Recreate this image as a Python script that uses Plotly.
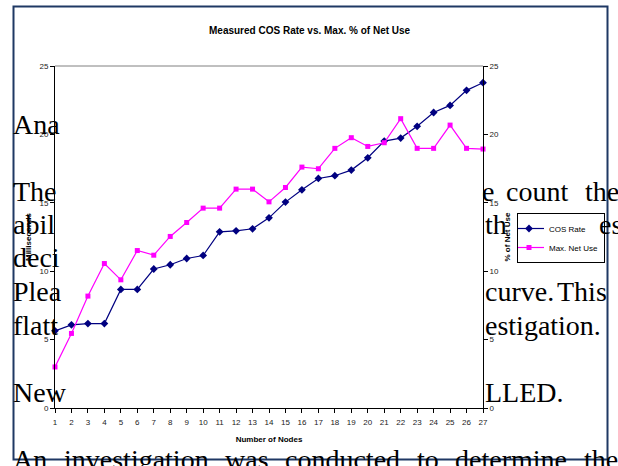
import plotly.graph_objects as go

# ---- data ----
nodes = list(range(1, 28))
cos_rate = [5.64, 6.08, 6.17, 6.17, 8.67, 8.67, 10.16, 10.47, 10.93, 11.15,
            12.88, 12.95, 13.10, 13.90, 15.05, 15.95, 16.78, 16.98, 17.39, 18.29,
            19.51, 19.73, 20.59, 21.60, 22.12, 23.22, 23.78]
max_net_use = [3.00, 5.45, 8.18, 10.56, 9.37, 11.51, 11.17, 12.54, 13.56, 14.61,
               14.61, 16.00, 16.00, 15.07, 16.12, 17.61, 17.49, 18.98, 19.76, 19.12,
               19.39, 21.15, 18.98, 18.98, 20.68, 18.98, 18.93]
y_ticks = [0, 5, 10, 15, 20, 25]

title_text = "Measured COS Rate vs. Max. % of Net Use"
x_title = "Number of Nodes"
y_title = "Milliseconds"
y2_title = "% of Net Use"
series_names = ["COS Rate", "Max. Net Use"]

# background document text fragments visible around the chart: (text, left px, baseline px)
bg_text = [
    ("Ana", 12, 134), ("The", 12, 201), ("abil", 12, 234), ("deci", 12, 267),
    ("Plea", 12, 301), ("flatt", 12, 335), ("New", 12, 402),
    ("e", 481, 201), ("count", 505, 201), ("the", 584, 201),
    ("th", 484, 234), ("es", 598, 234),
    ("curve.", 484, 301), ("This", 556, 301),
    ("estigation.", 484, 335), ("LLED.", 484, 402),
    ("An", 12, 469), ("investigation", 63, 469), ("was", 224, 469),
    ("conducted", 284, 469), ("to", 416, 469), ("determine", 454, 469), ("the", 583, 469),
]

W, H = 618, 466
PL, PR, PT, PB = 55, 483, 66, 408   # plot area in page pixels


def fx(p):
    return (p - PL) / (PR - PL)


def fy(p):
    return (PB - p) / (PB - PT)


FONT = "Liberation Sans, Arial, sans-serif"
SERIF = "Liberation Serif, Times New Roman, serif"
BG_SIZE = 28

fig = go.Figure()
fig.add_trace(go.Scatter(
    x=nodes, y=cos_rate, name=series_names[0], mode="lines+markers",
    line=dict(color="#000080", width=1.2),
    marker=dict(symbol="diamond", size=6, color="#000080"),
    cliponaxis=False, yaxis="y"))
fig.add_trace(go.Scatter(
    x=nodes, y=max_net_use, name=series_names[1], mode="lines+markers",
    line=dict(color="#FF00FF", width=1.2),
    marker=dict(symbol="square", size=5, color="#FF00FF"),
    cliponaxis=False, yaxis="y2"))

annotations = []
for txt, xl, base in bg_text:
    annotations.append(dict(
        text=txt, xref="paper", yref="paper", x=fx(xl), y=fy(base - 9.5),
        xanchor="left", yanchor="middle", showarrow=False,
        font=dict(family=SERIF, size=BG_SIZE, color="#000000"),
        borderpad=0))

annotations.append(dict(
    text="<b>" + title_text + "</b>", xref="paper", yref="paper",
    x=fx(310), y=fy(31), xanchor="center", yanchor="middle", showarrow=False,
    font=dict(family=FONT, size=10, color="#000000")))

axis_common = dict(showgrid=False, zeroline=False, showline=True,
                   linecolor="#000000", linewidth=1, ticks="outside", ticklen=4,
                   tickcolor="#000000",
                   tickfont=dict(family=FONT, size=8, color="#222222"))

fig.update_layout(
    width=W, height=H,
    margin=dict(l=PL, r=W - PR, t=PT, b=H - PB, autoexpand=False),
    paper_bgcolor="white", plot_bgcolor="white",
    showlegend=True,
    legend=dict(x=fx(517), y=fy(238), xanchor="left", yanchor="middle",
                bgcolor="white", bordercolor="#000000", borderwidth=1,
                font=dict(family=FONT, size=8, color="#000000"),
                itemwidth=30, tracegroupgap=0, indentation=-9),
    xaxis=dict(range=[1, 27], tickmode="array", tickvals=nodes,
               ticklabelstandoff=2,
               title=dict(text="<b>" + x_title + "</b>", standoff=10,
                          font=dict(family=FONT, size=8, color="#000000")),
               **axis_common),
    yaxis=dict(range=[0, 25], tickvals=y_ticks,
               title=dict(text="<b>" + y_title + "</b>", standoff=6,
                          font=dict(family=FONT, size=8, color="#000000")),
               **axis_common),
    yaxis2=dict(range=[0, 25], tickvals=y_ticks, overlaying="y", side="right",
                title=dict(text="<b>" + y2_title + "</b>", standoff=6,
                           font=dict(family=FONT, size=8, color="#000000")),
                **axis_common),
    annotations=annotations,
    shapes=[
        dict(type="line", xref="paper", yref="paper", x0=0, x1=1, y0=1, y1=1,
             line=dict(color="#808080", width=1), layer="below"),
        dict(type="rect", xref="paper", yref="paper",
             x0=fx(13.5), x1=fx(607.5), y0=fy(459.5), y1=fy(6.5),
             line=dict(color="#1F3864", width=2), layer="above"),
    ],
)

fig.write_html("out.html",
               config={"displayModeBar": False},
               post_script="document.body.style.margin='0px';"
                           "document.body.style.overflow='hidden';")
